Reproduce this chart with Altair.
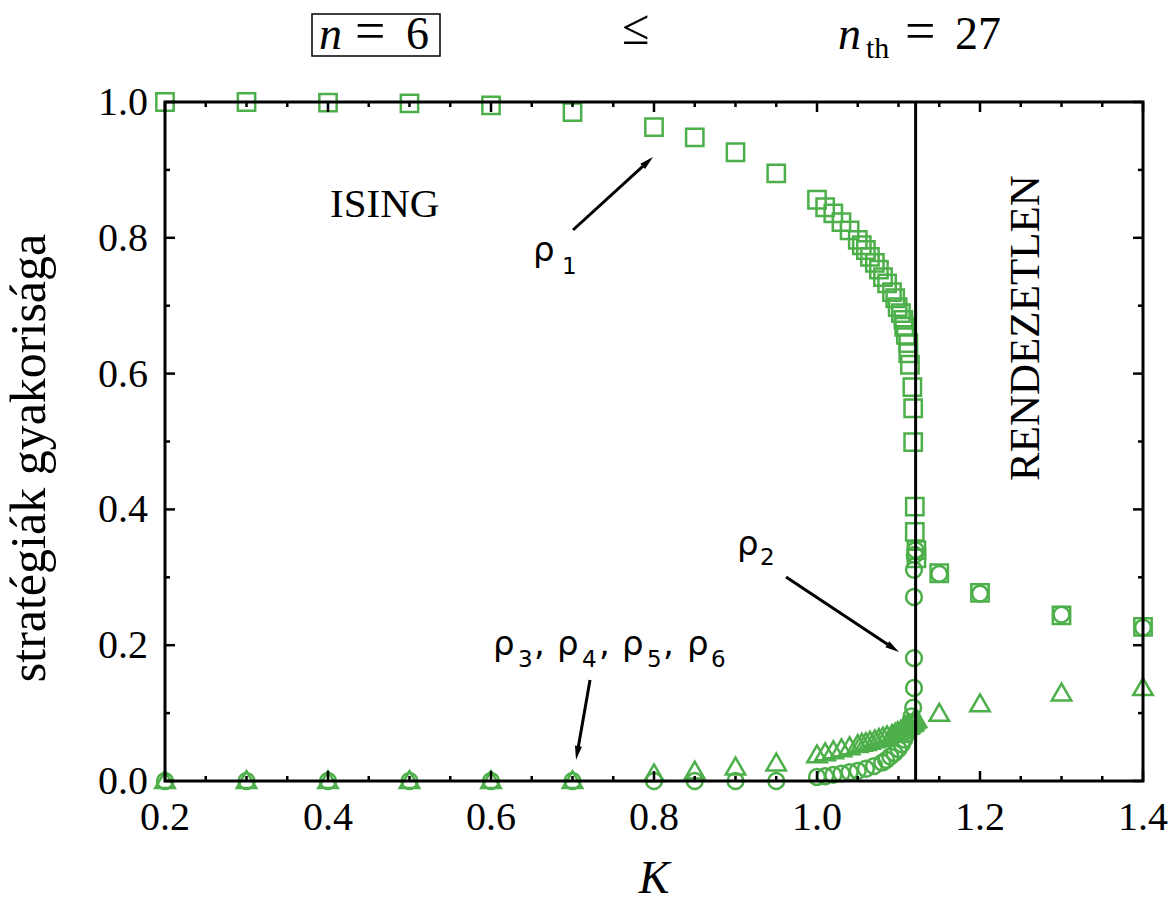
import math
import altair as alt
import pandas as pd

GREEN = "#4daf4a"
W, H = 978, 679
XMIN, XMAX = 0.2, 1.4

# ---------------- data ----------------
K_low = [0.2, 0.3, 0.4, 0.5, 0.6, 0.7, 0.8, 0.85, 0.9, 0.95]
rho1_low = [1.000, 1.000, 0.999, 0.998, 0.995, 0.985, 0.963, 0.948, 0.926, 0.895]
rho2_low = [0.000, 0.000, 0.000, 0.000, 0.000, 0.000, 0.000, 0.000, 0.000, 0.000]
rho3_low = [0.002, 0.002, 0.002, 0.002, 0.002, 0.002, 0.012, 0.016, 0.022, 0.028]

K_rho1_crit = [1.000, 1.010, 1.020, 1.030, 1.040, 1.050, 1.055, 1.060, 1.065, 1.071,
               1.076, 1.081, 1.086, 1.092, 1.096, 1.099, 1.103, 1.106, 1.107, 1.109,
               1.112, 1.112, 1.114, 1.117, 1.118, 1.118, 1.120, 1.120, 1.122, 1.122]
rho1_crit = [0.856, 0.845, 0.836, 0.823, 0.811, 0.797, 0.789, 0.782, 0.772, 0.763,
             0.753, 0.742, 0.733, 0.720, 0.711, 0.698, 0.689, 0.679, 0.669, 0.657,
             0.645, 0.630, 0.613, 0.580, 0.549, 0.499, 0.404, 0.367, 0.340, 0.328]

K_rho2_crit = [1.000, 1.010, 1.020, 1.030, 1.040, 1.050, 1.060, 1.070, 1.080, 1.085,
               1.090, 1.095, 1.100, 1.104, 1.107, 1.110, 1.112, 1.114, 1.116, 1.118,
               1.119, 1.119, 1.119, 1.119, 1.120, 1.121]
rho2_crit = [0.006, 0.007, 0.009, 0.011, 0.013, 0.015, 0.018, 0.022, 0.027, 0.031,
             0.036, 0.041, 0.047, 0.054, 0.061, 0.069, 0.077, 0.086, 0.095, 0.108,
             0.137, 0.181, 0.271, 0.311, 0.333, 0.340]

K_rho3_crit = [1.000, 1.010, 1.020, 1.030, 1.040, 1.050, 1.055, 1.060, 1.065, 1.071,
               1.076, 1.081, 1.086, 1.092, 1.096, 1.099, 1.103, 1.106, 1.109, 1.112,
               1.114, 1.117, 1.118, 1.120, 1.122]
rho3_crit = [0.040, 0.043, 0.046, 0.049, 0.052, 0.055, 0.057, 0.058, 0.060, 0.062,
             0.064, 0.066, 0.068, 0.070, 0.072, 0.074, 0.076, 0.078, 0.080, 0.082,
             0.084, 0.086, 0.088, 0.090, 0.092]

K_high = [1.15, 1.2, 1.3, 1.4]
rho1_high = [0.306, 0.277, 0.244, 0.227]
rho2_high = [0.305, 0.276, 0.245, 0.226]
rho3_high = [0.101, 0.115, 0.131, 0.139]

K_c = 1.121

x_major = [0.2, 0.4, 0.6, 0.8, 1.0, 1.2, 1.4]
x_labels = ["0.2", "0.4", "0.6", "0.8", "1.0", "1.2", "1.4"]
x_minor = [0.25, 0.3, 0.35, 0.45, 0.5, 0.55, 0.65, 0.7, 0.75, 0.85, 0.9, 0.95,
           1.05, 1.1, 1.15, 1.25, 1.3, 1.35]
y_major = [0.0, 0.2, 0.4, 0.6, 0.8, 1.0]
y_labels = ["0.0", "0.2", "0.4", "0.6", "0.8", "1.0"]
y_minor = [0.1, 0.3, 0.5, 0.7, 0.9]

x_title = "K"
y_title = "stratégiák gyakorisága"

# ---------------- frames ----------------
df1 = pd.DataFrame({"K": K_low + K_rho1_crit + K_high, "v": rho1_low + rho1_crit + rho1_high})
df2 = pd.DataFrame({"K": K_low + K_rho2_crit + K_high, "v": rho2_low + rho2_crit + rho2_high})
df3 = pd.DataFrame({"K": K_low + K_rho3_crit + K_high, "v": rho3_low + rho3_crit + rho3_high})
one = pd.DataFrame({"_": [0]})

xs = alt.Scale(domain=[XMIN, XMAX], nice=False, zero=False)
ys = alt.Scale(domain=[0, 1], nice=False, zero=False)

SERIF = "Liberation Serif"
SANS = "DejaVu Sans"


def pts(df, shape, size):
    return alt.Chart(df).mark_point(shape=shape, size=size, filled=False, strokeWidth=2.5,
                                    color=GREEN, opacity=1).encode(
        x=alt.X("K:Q", scale=xs, axis=None),
        y=alt.Y("v:Q", scale=ys, axis=None),
    )


squares = pts(df1, "square", 300)
circles = pts(df2, "circle", 250)
triangles = pts(df3, "triangle-up", 380)

kc_line = alt.Chart(one).mark_rule(color="black", strokeWidth=3).encode(
    x=alt.XDatum(K_c, scale=xs, axis=None))


def xticks(vals, length):
    d = pd.DataFrame({"t": vals})
    b = alt.Chart(d).mark_rule(color="black", strokeWidth=2.5).encode(
        x=alt.X("t:Q", scale=xs, axis=None), y=alt.value(H), y2=alt.value(H - length))
    t = alt.Chart(d).mark_rule(color="black", strokeWidth=2.5).encode(
        x=alt.X("t:Q", scale=xs, axis=None), y=alt.value(0), y2=alt.value(length))
    return [b, t]


def yticks(vals, length):
    d = pd.DataFrame({"t": vals})
    l = alt.Chart(d).mark_rule(color="black", strokeWidth=2.5).encode(
        y=alt.Y("t:Q", scale=ys, axis=None), x=alt.value(0), x2=alt.value(length))
    r = alt.Chart(d).mark_rule(color="black", strokeWidth=2.5).encode(
        y=alt.Y("t:Q", scale=ys, axis=None), x=alt.value(W), x2=alt.value(W - length))
    return [l, r]


ticks = xticks(x_major, 10) + xticks(x_minor, 5) + yticks(y_major, 10) + yticks(y_minor, 5)

# tick labels and axis titles (as text marks)
xlab = alt.Chart(pd.DataFrame({"t": x_major, "s": x_labels})).mark_text(
    font=SERIF, fontSize=40, color="black", align="center", baseline="alphabetic").encode(
    x=alt.X("t:Q", scale=xs, axis=None), y=alt.value(H + 49), text="s:N")
ylab = alt.Chart(pd.DataFrame({"t": y_major, "s": y_labels})).mark_text(
    font=SERIF, fontSize=40, color="black", align="right", baseline="middle", dy=1).encode(
    y=alt.Y("t:Q", scale=ys, axis=None), x=alt.value(-17), text="s:N")
xtit = alt.Chart(one).mark_text(text=x_title, font=SERIF, fontSize=46, fontStyle="italic",
                                color="black", align="center", baseline="alphabetic").encode(
    x=alt.value(W / 2), y=alt.value(H + 112))
ytit = alt.Chart(one).mark_text(text=y_title, font=SERIF, fontSize=50, angle=270,
                                color="black", align="center", baseline="alphabetic").encode(
    x=alt.value(-120), y=alt.value(356))

frame = alt.Chart(one).mark_rect(fill=None, fillOpacity=0, stroke="black", strokeWidth=3).encode(
    x=alt.value(0), x2=alt.value(W), y=alt.value(0), y2=alt.value(H))

ARROW_PATH = "M0,0L-0.25,1L0.25,1Z"
PXX = W / (XMAX - XMIN)
PXY = H / 1.0


def arrow(x0, y0, x1, y1):
    dxp = (x1 - x0) * PXX
    dyp = -(y1 - y0) * PXY
    L = math.hypot(dxp, dyp)
    f = (L - 8) / L
    xe = x0 + (x1 - x0) * f
    ye = y0 + (y1 - y0) * f
    ang = math.degrees(math.atan2(dxp, -dyp)) % 360
    line = alt.Chart(one).mark_rule(color="black", strokeWidth=3).encode(
        x=alt.XDatum(x0, scale=xs, axis=None), y=alt.YDatum(y0, scale=ys, axis=None),
        x2=alt.X2Datum(xe), y2=alt.Y2Datum(ye))
    head = alt.Chart(one).mark_point(shape=ARROW_PATH, size=784, filled=True, color="black",
                                     opacity=1, strokeWidth=0, angle=ang).encode(
        x=alt.XDatum(x1, scale=xs, axis=None), y=alt.YDatum(y1, scale=ys, axis=None))
    return [line, head]


def dtext(x, y, s, size, font, dx=0, dy=0, style="normal", align="left", angle=0,
          baseline="alphabetic"):
    return alt.Chart(one).mark_text(text=s, font=font, fontSize=size, fontStyle=style,
                                    dx=dx, dy=dy, align=align, baseline=baseline,
                                    color="black", angle=angle).encode(
        x=alt.XDatum(x, scale=xs, axis=None), y=alt.YDatum(y, scale=ys, axis=None))


def ptext(px, py, s, size, font=SERIF, style="normal", align="left"):
    return alt.Chart(one).mark_text(text=s, font=font, fontSize=size, fontStyle=style,
                                    align=align, baseline="alphabetic", color="black").encode(
        x=alt.value(px), y=alt.value(py))


RHO = 34
SUB = 23
annots = []
annots += arrow(0.7006, 0.8115, 0.7988, 0.919)
annots += arrow(0.962, 0.3004, 1.1006, 0.190)
annots += arrow(0.7215, 0.1487, 0.7043, 0.0309)

annots += [dtext(0.6515, 0.766, "ρ", RHO, SANS), dtext(0.6515, 0.766, "1", SUB, SANS, dx=29, dy=13)]
annots += [dtext(0.9018, 0.3328, "ρ", RHO, SANS), dtext(0.9018, 0.3328, "2", SUB, SANS, dx=23, dy=10)]
ax, ay = 0.6025, 0.1856
pieces = [("ρ", 0, 0, RHO), ("3", 25, 12, SUB), (",", 41, 0, RHO),
          ("ρ", 64, 0, RHO), ("4", 89, 12, SUB), (",", 106, 0, RHO),
          ("ρ", 129, 0, RHO), ("5", 154, 12, SUB), (",", 170, 0, RHO),
          ("ρ", 194, 0, RHO), ("6", 218, 12, SUB)]
for s, dx, dy, sz in pieces:
    annots.append(dtext(ax, ay, s, sz, SANS, dx=dx, dy=dy))

annots.append(dtext(0.4025, 0.8306, "ISING", 41, SERIF))
annots.append(dtext(1.2560, 0.667, "RENDEZETLEN", 43, SERIF, align="center", angle=270,
                    baseline="middle"))

# header
box = alt.Chart(one).mark_rect(fill=None, fillOpacity=0, stroke="black", strokeWidth=1.5).encode(
    x=alt.value(147), x2=alt.value(275), y=alt.value(-88), y2=alt.value(-46))
header = [box,
          ptext(154, -53, "n", 46, style="italic"),
          ptext(190, -53, "=", 54),
          ptext(241, -53, "6", 46),
          ptext(457, -58, "≤", 50),
          ptext(673, -53, "n", 46, style="italic"),
          ptext(701, -44, "th", 30),
          ptext(740, -53, "=", 54),
          ptext(790, -53, "27", 46)]

chart = alt.layer(triangles, circles, squares, kc_line, *ticks, frame,
                  xlab, ylab, xtit, ytit, *annots, *header).properties(
    width=W, height=H,
    background="white",
    autosize=alt.AutoSizeParams(type="none"),
    padding={"left": 165, "top": 102, "right": 31, "bottom": 127},
).configure_view(stroke=None)

chart.save("out.html", embed_options={"renderer": "svg", "actions": False})
